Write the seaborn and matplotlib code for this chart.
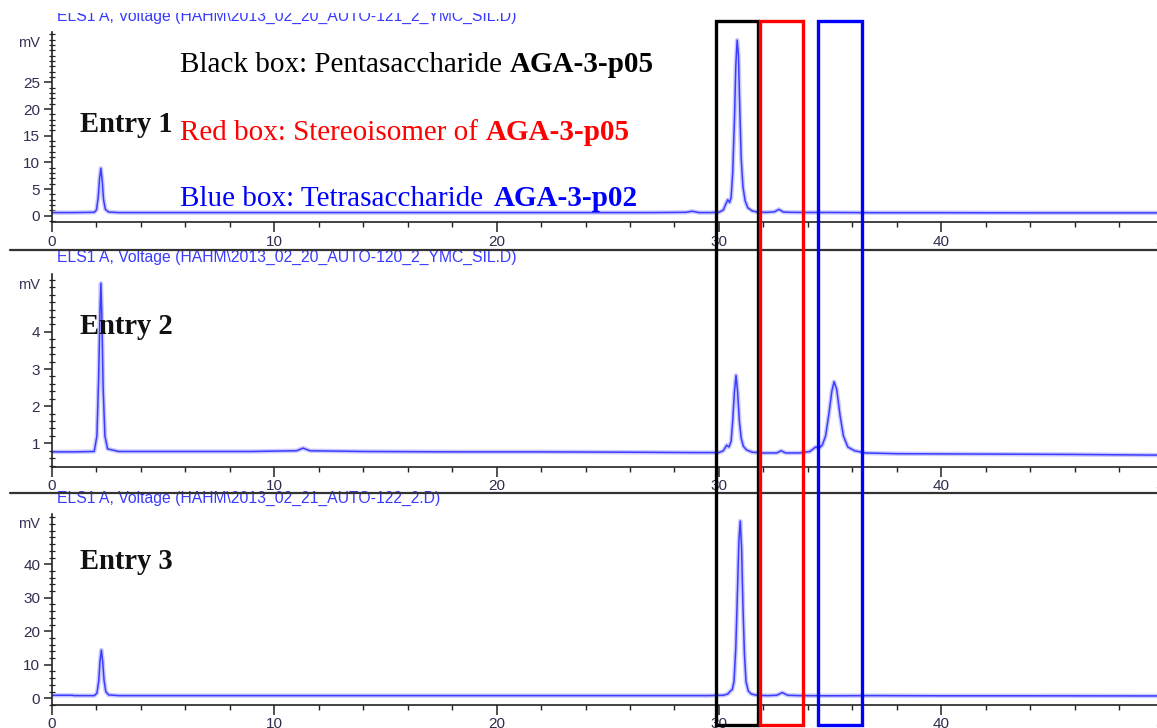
import matplotlib
matplotlib.use("Agg")
import matplotlib.pyplot as plt
import seaborn as sns
from matplotlib.patches import Rectangle
from matplotlib.lines import Line2D
from matplotlib.ticker import MultipleLocator
from matplotlib.transforms import blended_transform_factory

# ---------------------------------------------------------------- data
# Run 1 (AUTO-121): retention time (min) and detector signal (mV)
t_run1 = [0, 1.0, 1.9, 2.0, 2.08, 2.14, 2.2, 2.26, 2.32, 2.4, 2.55, 3.0, 5, 8, 12, 16,
          20, 24, 27, 28.5, 28.8, 29.1, 29.6, 30.0, 30.2, 30.3, 30.4, 30.48, 30.55,
          30.62, 30.7, 30.76, 30.82, 30.88, 30.94, 31.0, 31.08, 31.18, 31.3, 31.5,
          31.8, 32.2, 32.5, 32.7, 32.9, 33.2, 34, 35, 36, 37, 40, 44, 46, 48, 50.2]
mv_run1 = [0.6, 0.6, 0.65, 1.1, 3.5, 7.0, 8.9, 6.5, 3.0, 1.2, 0.7, 0.6, 0.6, 0.6, 0.6,
           0.6, 0.6, 0.6, 0.6, 0.65, 0.85, 0.6, 0.6, 0.65, 1.1, 2.1, 3.0, 2.5, 3.4,
           8.0, 18.0, 28.0, 32.9, 30.0, 20.0, 11.0, 5.5, 2.8, 1.5, 0.9, 0.65, 0.65,
           0.75, 1.2, 0.7, 0.65, 0.62, 0.62, 0.6, 0.58, 0.58, 0.55, 0.55, 0.55, 0.55]

# Run 2 (AUTO-120)
t_run2 = [0, 1.0, 1.9, 2.02, 2.1, 2.16, 2.2, 2.24, 2.3, 2.38, 2.5, 3, 6, 9, 11.0, 11.3,
          11.6, 14, 18, 22, 26, 29, 30.0, 30.2, 30.35, 30.45, 30.55, 30.62, 30.7,
          30.77, 30.84, 30.92, 31.0, 31.1, 31.25, 31.5, 32.0, 32.6, 32.8, 33.0, 33.6,
          34.1, 34.35, 34.5, 34.65, 34.8, 34.95, 35.08, 35.18, 35.3, 35.45, 35.6,
          35.8, 36.1, 36.6, 38, 42, 46, 50.2]
mv_run2 = [0.77, 0.77, 0.78, 1.2, 2.8, 4.6, 5.31, 4.5, 2.5, 1.2, 0.85, 0.78, 0.78,
           0.78, 0.8, 0.87, 0.8, 0.78, 0.77, 0.77, 0.76, 0.75, 0.75, 0.8, 0.95, 0.9,
           1.05, 1.6, 2.4, 2.83, 2.4, 1.6, 1.15, 0.92, 0.82, 0.76, 0.74, 0.74, 0.8,
           0.74, 0.74, 0.78, 0.9, 0.87, 0.95, 1.2, 1.8, 2.4, 2.66, 2.45, 1.75, 1.2,
           0.9, 0.8, 0.74, 0.72, 0.71, 0.7, 0.68]

# Run 3 (AUTO-122)
t_run3 = [0, 0.9, 1.0, 1.9, 2.02, 2.1, 2.16, 2.22, 2.28, 2.34, 2.42, 2.55, 3, 6, 10,
          15, 20, 25, 28, 29.5, 30.2, 30.4, 30.52, 30.6, 30.68, 30.76, 30.84, 30.9,
          30.96, 31.02, 31.08, 31.15, 31.22, 31.32, 31.45, 31.7, 32.2, 32.6, 32.85,
          33.1, 33.6, 35, 37, 40, 44, 50.2]
mv_run3 = [0.9, 0.9, 0.8, 0.8, 1.5, 5.0, 11.0, 14.4, 11.0, 5.5, 2.0, 1.0, 0.8, 0.8,
           0.8, 0.8, 0.8, 0.8, 0.8, 0.8, 0.9, 1.3, 2.2, 2.6, 5.0, 15.0, 33.0, 47.0,
           52.9, 45.0, 28.0, 13.0, 5.0, 2.2, 1.3, 0.9, 0.8, 0.9, 1.7, 0.9, 0.8, 0.75,
           0.8, 0.75, 0.75, 0.7]

run_titles = ["ELS1 A, Voltage (HAHM\\2013_02_20_AUTO-121_2_YMC_SIL.D)",
              "ELS1 A, Voltage (HAHM\\2013_02_20_AUTO-120_2_YMC_SIL.D)",
              "ELS1 A, Voltage (HAHM\\2013_02_21_AUTO-122_2.D)"]
entry_labels = ["Entry 1", "Entry 2", "Entry 3"]
x_ticks = [0, 10, 20, 30, 40, 50]
y_ticks_run1 = [0, 5, 10, 15, 20, 25]
y_ticks_run2 = [1, 2, 3, 4]
y_ticks_run3 = [0, 10, 20, 30, 40]

# retention windows marked on all three runs (min)
box_windows = [(29.87, 31.77), (31.85, 33.77), (34.44, 36.42)]
box_colors = ["#000000", "#ff0000", "#0000ff"]
legend_lines = [
    [("Black box: Pentasaccharide", "normal"), ("AGA-3-p05", "bold")],
    [("Red box: Stereoisomer of", "normal"), ("AGA-3-p05", "bold")],
    [("Blue box: Tetrasaccharide", "normal"), ("AGA-3-p02", "bold")],
]

# ---------------------------------------------------------------- style
sns.set_style("ticks")
plt.rcParams["font.family"] = ["Liberation Sans", "DejaVu Sans"]
SERIF = ["Liberation Serif", "DejaVu Serif"]

W, H = 1157, 728
fig = plt.figure(figsize=(W / 100, H / 100), dpi=100)


def fx(px):
    return px / W


def fy(py):
    return 1 - py / H


X0_PX = 52.0
PX_PER_MIN = 22.23
XMAX = 50.2

TRACE = "#3c3cff"
HALO = "#b4b4ff"
TICK_COLOR = "#2e2e4e"

# panel geometry: (top px, bottom px, ylim, minor step, mV y px)
panels = [
    (31.7, 222.3, (-1.22, 34.48), 1, 42.7),
    (274.0, 466.7, (0.37, 5.56), 0.2, 285.0),
    (514.3, 705.0, (-2.0, 54.9), 2, 524.0),
]
series = [(t_run1, mv_run1), (t_run2, mv_run2), (t_run3, mv_run3)]
y_ticks = [y_ticks_run1, y_ticks_run2, y_ticks_run3]

axes = []
for (top, bot, ylim, mnr, mv_y), (t, v), yt in zip(panels, series, y_ticks):
    ax = fig.add_axes([fx(X0_PX), fy(bot), XMAX * PX_PER_MIN / W, (bot - top) / H])
    ax.patch.set_alpha(0)
    sns.lineplot(x=t, y=v, ax=ax, color=HALO, lw=3.2, alpha=0.7,
                 estimator=None, sort=False)
    sns.lineplot(x=t, y=v, ax=ax, color=TRACE, lw=1.1,
                 estimator=None, sort=False)
    ax.set_xlim(0, XMAX)
    ax.set_ylim(*ylim)
    ax.set_xticks(x_ticks)
    ax.set_xticklabels([str(x) for x in x_ticks])
    ax.xaxis.set_minor_locator(MultipleLocator(2))
    ax.set_yticks(yt)
    ax.set_yticklabels([str(y) for y in yt])
    ax.yaxis.set_minor_locator(MultipleLocator(mnr))
    for side in ("top", "right"):
        ax.spines[side].set_visible(False)
    for side in ("left", "bottom"):
        ax.spines[side].set_color("#222222")
        ax.spines[side].set_linewidth(1.2)
    ax.tick_params(axis="x", which="major", direction="out", length=7.5, width=1.1,
                   color="#222222", labelsize=11, labelcolor=TICK_COLOR, pad=1.5)
    ax.tick_params(axis="x", which="minor", direction="out", length=3.5, width=1.0,
                   color="#222222")
    ax.tick_params(axis="y", which="major", direction="out", length=5.5, width=1.1,
                   color="#222222", labelsize=11, labelcolor=TICK_COLOR, pad=3)
    ax.tick_params(axis="y", which="minor", direction="inout", length=4, width=0.9,
                   color="#222222")
    ax.set_xlabel("")
    ax.set_ylabel("")
    fig.text(fx(40), fy(mv_y), "mV", ha="right", va="center", fontsize=10.5,
             color="#3a2f5a")
    axes.append(ax)

# run headers
for title, base in zip(run_titles, [20.5, 262.0, 503.0]):
    fig.text(fx(57), fy(base), title, ha="left", va="baseline", fontsize=11.3,
             color="#3a3aff", zorder=2)

# strip hiding the cropped top of the first header
fig.add_artist(Rectangle((0, fy(12.5)), 1, 1 - fy(12.5), transform=fig.transFigure,
                         facecolor="white", edgecolor="none", zorder=2.5))

# separators between the stacked runs
for y in (250.0, 493.3):
    fig.add_artist(Line2D([fx(10), 1], [fy(y), fy(y)], transform=fig.transFigure,
                          color="#333333", lw=1.6, zorder=3))

# retention windows, spanning all three runs
trans = blended_transform_factory(axes[0].transData, fig.transFigure)
for (a, b), c in zip(box_windows, box_colors):
    fig.add_artist(Rectangle((a, fy(725)), b - a, fy(21) - fy(725), transform=trans,
                             fill=False, edgecolor=c, lw=2.4, zorder=4))

# entry labels
for lab, base in zip(entry_labels, [131.5, 334.0, 569.0]):
    fig.text(fx(80), fy(base), lab, ha="left", va="baseline", fontsize=20.6,
             fontweight="bold", family=SERIF, color="#111111", zorder=5)

# legend lines with bold compound names
renderer = fig.canvas.get_renderer()
FS = 21
space_px = 0.25 * FS * 100 / 72
for parts, c, base, gaps in zip(legend_lines, box_colors, [72.5, 140.5, 206.5],
                                [1, 1, 1.4]):
    x = 180.0
    for i, (s, w) in enumerate(parts):
        txt = fig.text(fx(x), fy(base), s, ha="left", va="baseline", fontsize=FS,
                       fontweight=w, family=SERIF, color=c, zorder=5)
        bb = txt.get_window_extent(renderer=renderer)
        x += bb.width + space_px * gaps

fig.savefig("out.png", dpi=100)
